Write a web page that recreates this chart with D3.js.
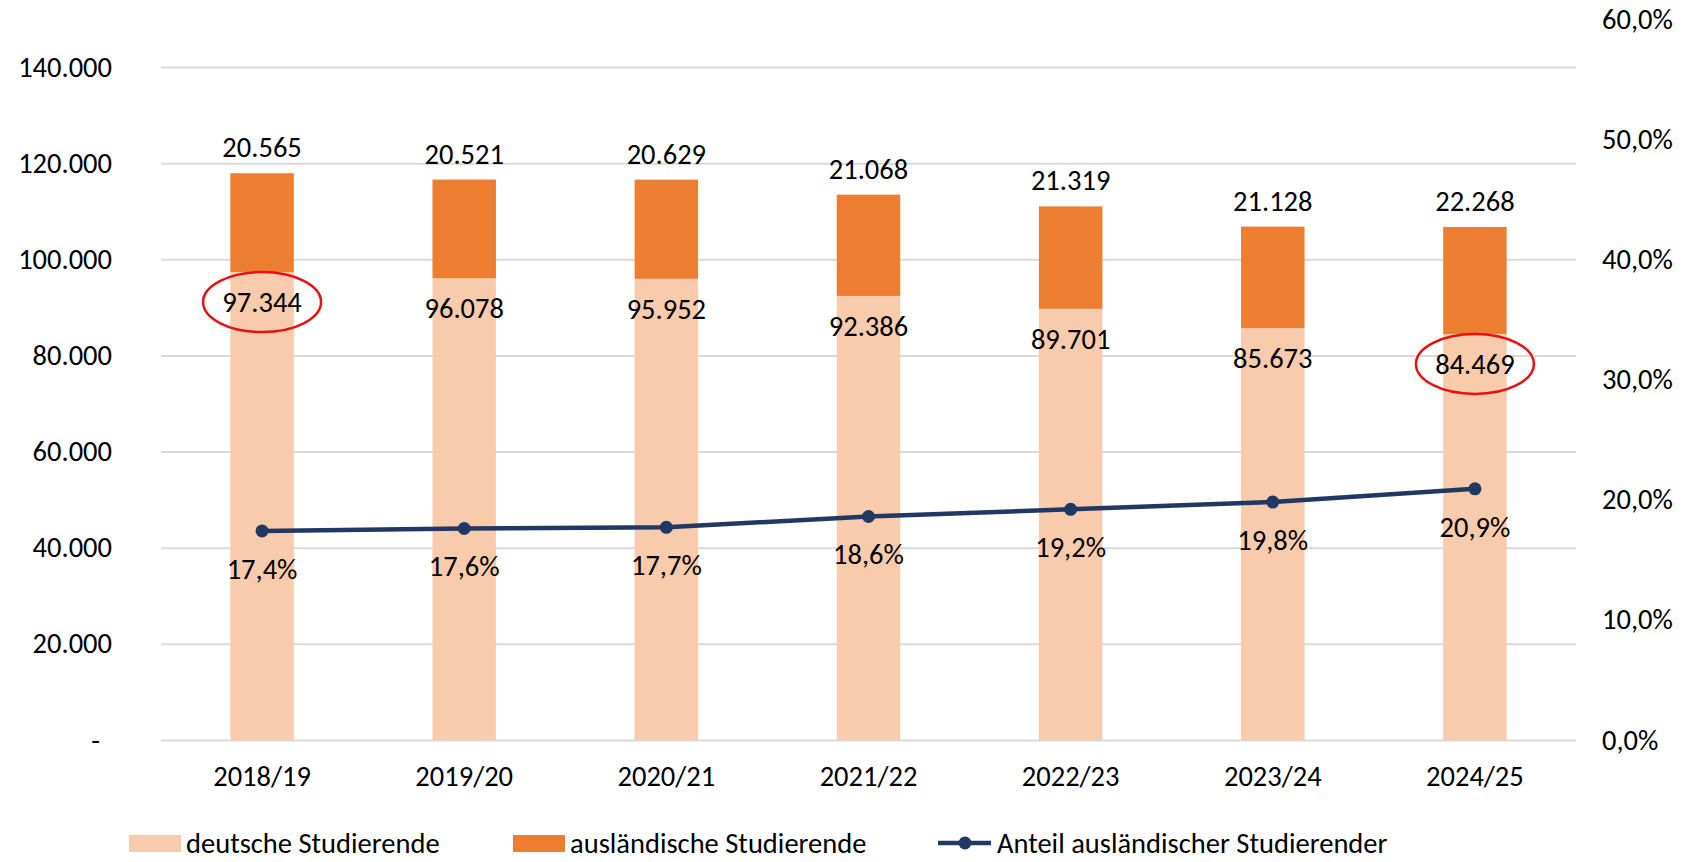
<!DOCTYPE html>
<html>
<head>
<meta charset="utf-8">
<script src="https://cdn.jsdelivr.net/npm/d3@7"></script>
<style>
  html, body { margin: 0; padding: 0; background: #fff; }
  svg { display: block; }
  text { font-family: Carlito, Calibri, Lato, sans-serif; fill: #000; }
</style>
</head>
<body>
<svg id="chart" width="1686" height="862"></svg>
<script>
const categories = ["2018/19", "2019/20", "2020/21", "2021/22", "2022/23", "2023/24", "2024/25"];
const deutsche = [97344, 96078, 95952, 92386, 89701, 85673, 84469];
const auslaendische = [20565, 20521, 20629, 21068, 21319, 21128, 22268];
const anteil = [0.174, 0.176, 0.177, 0.186, 0.192, 0.198, 0.209];
const leftTicks = [0, 20000, 40000, 60000, 80000, 100000, 120000, 140000];
const rightTicks = [0, 0.1, 0.2, 0.3, 0.4, 0.5, 0.6];
const seriesNames = ["deutsche Studierende", "ausländische Studierende", "Anteil ausländischer Studierender"];
const highlighted = [0, 6];

const W = 1686, H = 862;
const plot = { left: 161, right: 1576, top: 19, bottom: 740 };
const colLight = "#F8CBAD", colOrange = "#ED7D31", colLine = "#203864", colGrid = "#D9D9D9";
const FS = 28.5;

const de = d3.formatLocale({ decimal: ",", thousands: ".", grouping: [3], currency: ["", "€"] });
const fmtInt = de.format(",.0f");
const fmtPct = de.format(".1%");

const svg = d3.select("#chart");

const x = d3.scaleBand().domain(categories).range([plot.left, plot.right])
  .paddingInner(0.686).paddingOuter(0.343);
const yL = d3.scaleLinear().domain([0, 150000]).range([plot.bottom, plot.top]);
const yR = d3.scaleLinear().domain([0, 0.6]).range([plot.bottom, plot.top]);

// left axis + gridlines
const gL = svg.append("g").attr("transform", `translate(${plot.left},0)`)
  .call(d3.axisLeft(yL).tickValues(leftTicks)
    .tickSize(-(plot.right - plot.left)).tickPadding(49)
    .tickFormat(d => d === 0 ? "-" : fmtInt(d)));
gL.select(".domain").remove();
gL.selectAll(".tick line").attr("stroke", colGrid).attr("stroke-width", 2);
gL.selectAll(".tick text").attr("font-size", FS).attr("font-family", null)
  .attr("dx", d => d === 0 ? -12 : 0);

// right axis
const gR = svg.append("g").attr("transform", `translate(${plot.right},0)`)
  .call(d3.axisRight(yR).tickValues(rightTicks).tickSize(0).tickPadding(26).tickFormat(fmtPct));
gR.select(".domain").remove();
gR.selectAll(".tick text").attr("font-size", FS).attr("font-family", null);

// bottom axis
const gB = svg.append("g").attr("transform", `translate(0,${plot.bottom})`)
  .call(d3.axisBottom(x).tickSize(0).tickPadding(26));
gB.select(".domain").remove();
gB.selectAll(".tick text").attr("font-size", FS).attr("font-family", null);

// bars
const rows = categories.map((c, i) => ({ c, de: deutsche[i], au: auslaendische[i], p: anteil[i], i }));
svg.append("g").selectAll("rect").data(rows).join("rect")
  .attr("x", d => x(d.c)).attr("width", x.bandwidth())
  .attr("y", d => yL(d.de)).attr("height", d => yL(0) - yL(d.de))
  .attr("fill", colLight);
svg.append("g").selectAll("rect").data(rows).join("rect")
  .attr("x", d => x(d.c)).attr("width", x.bandwidth())
  .attr("y", d => yL(d.de + d.au)).attr("height", d => yL(d.de) - yL(d.de + d.au))
  .attr("fill", colOrange);

const cx = d => x(d.c) + x.bandwidth() / 2;

// labels
svg.append("g").selectAll("text").data(rows).join("text")
  .attr("x", cx).attr("y", d => yL(d.de + d.au) - 26).attr("dy", "0.35em")
  .attr("text-anchor", "middle").attr("font-size", FS).text(d => fmtInt(d.au));
svg.append("g").selectAll("text").data(rows).join("text")
  .attr("x", cx).attr("y", d => yL(d.de) + 30).attr("dy", "0.35em")
  .attr("text-anchor", "middle").attr("font-size", FS).text(d => fmtInt(d.de));

// line
const line = d3.line().x(cx).y(d => yR(d.p));
svg.append("path").datum(rows).attr("d", line)
  .attr("fill", "none").attr("stroke", colLine).attr("stroke-width", 4.5).attr("stroke-linejoin", "round");
svg.append("g").selectAll("circle").data(rows).join("circle")
  .attr("cx", cx).attr("cy", d => yR(d.p)).attr("r", 6.5).attr("fill", colLine);
svg.append("g").selectAll("text").data(rows).join("text")
  .attr("x", cx).attr("y", d => yR(d.p) + 38).attr("dy", "0.35em")
  .attr("text-anchor", "middle").attr("font-size", FS).text(d => fmtPct(d.p));

// highlight ellipses
svg.append("g").selectAll("ellipse").data(rows.filter(d => highlighted.includes(d.i))).join("ellipse")
  .attr("cx", cx).attr("cy", d => yL(d.de) + 30).attr("rx", 59).attr("ry", 30)
  .attr("fill", "none").attr("stroke", "#E81010").attr("stroke-width", 2.5);

// legend
const ly = 843;
const leg = svg.append("g");
leg.append("rect").attr("x", 129).attr("y", ly - 8).attr("width", 52).attr("height", 17).attr("fill", colLight);
leg.append("text").attr("x", 186).attr("y", ly).attr("dy", "0.35em").attr("font-size", FS).text(seriesNames[0]);
leg.append("rect").attr("x", 513).attr("y", ly - 8).attr("width", 52).attr("height", 17).attr("fill", colOrange);
leg.append("text").attr("x", 570).attr("y", ly).attr("dy", "0.35em").attr("font-size", FS).text(seriesNames[1]);
leg.append("line").attr("x1", 938).attr("x2", 991).attr("y1", ly).attr("y2", ly)
  .attr("stroke", colLine).attr("stroke-width", 4.5);
leg.append("circle").attr("cx", 965).attr("cy", ly).attr("r", 6.5).attr("fill", colLine);
leg.append("text").attr("x", 997).attr("y", ly).attr("dy", "0.35em").attr("font-size", FS).text(seriesNames[2]);
</script>
</body>
</html>
